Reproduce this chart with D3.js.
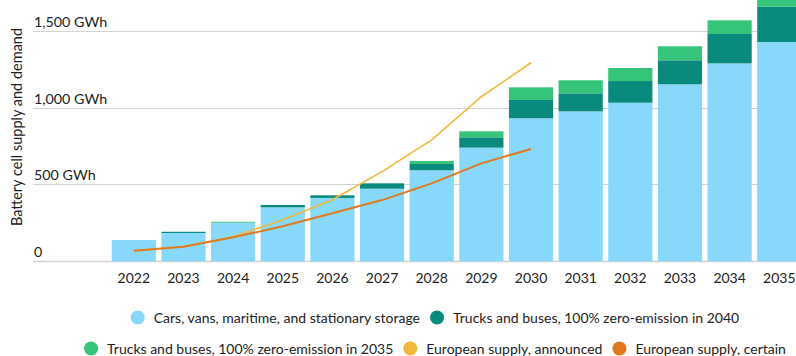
<!DOCTYPE html>
<html>
<head>
<meta charset="utf-8">
<script src="https://cdn.jsdelivr.net/npm/d3@7"></script>
<style>
  html, body { margin: 0; padding: 0; background: #fff; overflow: hidden; }
  svg { display: block; font-family: Lato, "Noto Sans", sans-serif; }
</style>
</head>
<body>
<svg id="chart" width="796" height="356"></svg>
<script>
// ---- Data ----
const years = ["2022","2023","2024","2025","2026","2027","2028","2029","2030","2031","2032","2033","2034","2035"];
const carsVansStorage = [138, 184, 251, 351, 412, 472, 592, 739, 930, 975, 1031, 1151, 1287, 1426];
const trucks2040 =      [0,   8,   0,   15,  17,  35,  41,  67,  119, 117, 141,  156,  191,  229];
const trucks2035 =      [0,   0,   6,   0,   0,   0,   19,  39,  82,  85,  85,   91,   89,   92];
const lineYears = ["2022","2023","2024","2025","2026","2027","2028","2029","2030"];
const supplyAnnounced = [69, 95, 160, 270, 400, 583, 789, 1070, 1291];
const supplyCertain =   [69, 95, 156, 228, 312, 398, 507, 637, 730];
const yTicks = [0, 500, 1000, 1500];
const yTickLabels = ["0", "500 GWh", "1,000 GWh", "1,500 GWh"];
const yTitle = "Battery cell supply and demand";
const legendRow1 = [
  {label: "Cars, vans, maritime, and stationary storage", color: "#87D8FB"},
  {label: "Trucks and buses, 100% zero-emission in 2040", color: "#0A8A7C"}
];
const legendRow2 = [
  {label: "Trucks and buses, 100% zero-emission in 2035", color: "#36C47B"},
  {label: "European supply, announced", color: "#F0B93A"},
  {label: "European supply, certain", color: "#E07A1F"}
];
const colors = {cars: "#87D8FB", t2040: "#0A8A7C", t2035: "#36C47B", announced: "#F0B93A", certain: "#E07A1F"};

// ---- Layout ----
const svg = d3.select("#chart");
const y = d3.scaleLinear().domain([0, 1500]).range([261.3, 30.6]);
const x = d3.scaleBand().domain(years).range([109, 804.1]).paddingInner(0.11).paddingOuter(0.055);
const gridLeft = 33, gridRight = 796;

// gridlines
svg.append("g").selectAll("line").data(yTicks).join("line")
  .attr("x1", gridLeft).attr("x2", gridRight)
  .attr("y1", d => Math.round(y(d)) + 0.5).attr("y2", d => Math.round(y(d)) + 0.5)
  .attr("stroke", "#d3d3d3").attr("stroke-width", d => d === 0 ? 1.5 : 1);

// tick labels
svg.append("g").selectAll("text").data(yTicks).join("text")
  .attr("x", 34).attr("y", d => y(d) - 4)
  .attr("font-size", 14.3).attr("fill", "#222")
  .text((d, i) => yTickLabels[i]);

// y title
svg.append("text")
  .attr("transform", "translate(22,127) rotate(-90)")
  .attr("text-anchor", "middle").attr("font-size", 14.5).attr("fill", "#222")
  .text(yTitle);

// stacked bars
const table = years.map((yr, i) => ({year: yr, cars: carsVansStorage[i], t2040: trucks2040[i], t2035: trucks2035[i]}));
const stack = d3.stack().keys(["cars", "t2040", "t2035"])(table);
svg.append("g").selectAll("g").data(stack).join("g")
  .attr("fill", d => colors[d.key])
  .selectAll("rect").data(d => d).join("rect")
  .attr("x", d => x(d.data.year))
  .attr("width", x.bandwidth())
  .attr("y", d => y(d[1]))
  .attr("height", d => Math.max(0, y(d[0]) - y(d[1])));

// lines
const lineGen = d3.line().x((d, i) => x(lineYears[i]) + x.bandwidth() / 2).y(d => y(d));
svg.append("path").datum(supplyAnnounced).attr("d", lineGen)
  .attr("fill", "none").attr("stroke", colors.announced).attr("stroke-width", 1.6);
svg.append("path").datum(supplyCertain).attr("d", lineGen)
  .attr("fill", "none").attr("stroke", colors.certain).attr("stroke-width", 2);

// x labels
svg.append("g").selectAll("text").data(years).join("text")
  .attr("x", d => x(d) + x.bandwidth() / 2).attr("y", 282.5)
  .attr("text-anchor", "middle").attr("font-size", 14).attr("fill", "#222")
  .text(d => d);

// legend
function legendRow(items, cy, cx) {
  const g = svg.append("g");
  const r = 7, gapText = 9, gapItem = 10;
  const texts = items.map(it => g.append("text").attr("font-size", 14).attr("fill", "#222").attr("y", cy + 5).text(it.label));
  const widths = texts.map(t => t.node().getComputedTextLength());
  const total = items.reduce((s, it, i) => s + 2 * r + gapText + widths[i], 0) + gapItem * (items.length - 1);
  let xx = cx - total / 2;
  items.forEach((it, i) => {
    g.append("circle").attr("cx", xx + r).attr("cy", cy).attr("r", r).attr("fill", it.color);
    texts[i].attr("x", xx + 2 * r + gapText);
    xx += 2 * r + gapText + widths[i] + gapItem;
  });
}
legendRow(legendRow1, 317.5, 435);
legendRow(legendRow2, 348.5, 435);
</script>
</body>
</html>
